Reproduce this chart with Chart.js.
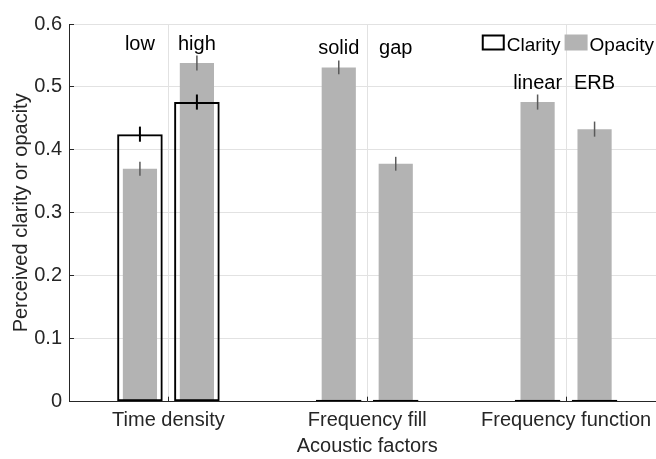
<!DOCTYPE html>
<html><head><meta charset="utf-8">
<script src="https://cdn.jsdelivr.net/npm/chart.js@4.4.1/dist/chart.umd.min.js"></script>
<style>
html,body{margin:0;padding:0;background:#fff;overflow:hidden;width:656px;height:459px}
#wrap{width:668px;height:459px}
</style></head>
<body><div id="wrap"><canvas id="c" width="668" height="459"></canvas></div>
<script>
const categories = ['Time density', 'Frequency fill', 'Frequency function'];
const firstLevelNames = ['low', 'solid', 'linear'];
const secondLevelNames = ['high', 'gap', 'ERB'];
const seriesNames = ['Clarity', 'Opacity'];

const clarityFirst = [0.425, 0, 0];
const clarityFirstErr = [0.012, 0, 0];
const claritySecond = [0.476, 0, 0];
const claritySecondErr = [0.012, 0, 0];
const opacityFirst = [0.370, 0.531, 0.476];
const opacityFirstErr = [0.011, 0.011, 0.012];
const opacitySecond = [0.538, 0.378, 0.433];
const opacitySecondErr = [0.012, 0.011, 0.012];

const yTickLabels = ['0', '0.1', '0.2', '0.3', '0.4', '0.5', '0.6'];
const xTitle = 'Acoustic factors';
const yTitle = 'Perceived clarity or opacity';

const FONT = '"Liberation Sans", Arial, Helvetica, sans-serif';
const AXIS_COLOR = '#262626';
const GRID_COLOR = '#e2e2e2';
const GRAY = '#b3b3b3';

const errorBars = {
  id: 'errorBars',
  afterDatasetsDraw(chart) {
    const ctx = chart.ctx, ys = chart.scales.y;
    chart.data.datasets.forEach((ds, di) => {
      if (!ds.errors) return;
      const meta = chart.getDatasetMeta(di);
      meta.data.forEach((bar, i) => {
        const e = ds.errors[i];
        if (!e) return;
        const v = ds.data[i];
        ctx.save();
        ctx.strokeStyle = ds.errorColor;
        ctx.lineWidth = ds.errorWidth;
        ctx.beginPath();
        ctx.moveTo(bar.x, ys.getPixelForValue(v - e));
        ctx.lineTo(bar.x, ys.getPixelForValue(v + e));
        ctx.stroke();
        ctx.restore();
      });
    });
  }
};

const levelLabels = {
  id: 'levelLabels',
  afterDatasetsDraw(chart) {
    const ctx = chart.ctx, ys = chart.scales.y;
    const labelY = [0.558, 0.553, 0.496];
    const sets = [[2, firstLevelNames], [3, secondLevelNames]];
    ctx.save();
    ctx.font = '20px ' + FONT;
    ctx.fillStyle = '#000';
    ctx.textAlign = 'center';
    ctx.textBaseline = 'alphabetic';
    sets.forEach(([di, names]) => {
      const meta = chart.getDatasetMeta(di);
      meta.data.forEach((bar, i) => {
        ctx.fillText(names[i], bar.x, ys.getPixelForValue(labelY[i]));
      });
    });
    ctx.restore();
  }
};

const boxLegend = {
  id: 'boxLegend',
  afterDraw(chart) {
    const ctx = chart.ctx, a = chart.chartArea;
    const items = [chart.data.datasets[0], chart.data.datasets[2]];
    const boxW = 23, boxH = 16, gapT = 2, gapI = 4;
    ctx.save();
    ctx.font = '19px ' + FONT;
    const widths = items.map(d => ctx.measureText(d.label).width);
    let total = 0;
    widths.forEach(w => total += boxW + gapT + w);
    total += gapI;
    let x = a.right - 11.5 - total;
    const top = a.top + 10.5;
    items.forEach((d, k) => {
      if (d.borderWidth) {
        ctx.lineWidth = 2;
        ctx.strokeStyle = d.borderColor;
        ctx.strokeRect(x + 1, top + 1, boxW - 2, boxH - 2);
      } else {
        ctx.fillStyle = d.backgroundColor;
        ctx.fillRect(x, top, boxW, boxH);
      }
      ctx.fillStyle = '#000';
      ctx.textBaseline = 'alphabetic';
      ctx.textAlign = 'left';
      ctx.fillText(d.label, x + boxW + gapT, top + boxH);
      x += boxW + gapT + widths[k] + gapI;
    });
    ctx.restore();
  }
};

const clarityStyle = {
  backgroundColor: 'rgba(0,0,0,0)',
  borderColor: '#000',
  borderWidth: 2,
  borderSkipped: false,
  barPercentage: 0.8,
  categoryPercentage: 0.573,
  minBarLength: 2,
  errorColor: '#000',
  errorWidth: 2
};
const opacityStyle = {
  backgroundColor: GRAY,
  borderWidth: 0,
  barPercentage: 0.6,
  categoryPercentage: 0.573,
  errorColor: '#5a5a5a',
  errorWidth: 1.5
};

new Chart(document.getElementById('c'), {
  type: 'bar',
  data: {
    labels: categories,
    datasets: [
      Object.assign({ label: seriesNames[0], data: clarityFirst, errors: clarityFirstErr, stack: 'first' }, clarityStyle),
      Object.assign({ label: seriesNames[0], data: claritySecond, errors: claritySecondErr, stack: 'second' }, clarityStyle),
      Object.assign({ label: seriesNames[1], data: opacityFirst, errors: opacityFirstErr, stack: 'first' }, opacityStyle),
      Object.assign({ label: seriesNames[1], data: opacitySecond, errors: opacitySecondErr, stack: 'second' }, opacityStyle)
    ]
  },
  options: {
    responsive: false,
    animation: false,
    layout: { padding: { top: 12, left: 0, right: 2.5, bottom: 0 } },
    plugins: { legend: { display: false }, tooltip: { enabled: false } },
    scales: {
      x: {
        type: 'category',
        offset: true,
        grid: { offset: false, color: GRID_COLOR, tickColor: AXIS_COLOR, tickLength: -5, lineWidth: 1 },
        border: { color: AXIS_COLOR, width: 1, z: 1 },
        ticks: { color: AXIS_COLOR, font: { family: FONT, size: 20 }, padding: 12, maxRotation: 0, autoSkip: false },
        title: { display: true, text: xTitle, color: AXIS_COLOR, font: { family: FONT, size: 20 }, padding: { top: 0, bottom: 1 } },
        afterFit(s) { s.height = 57.3; }
      },
      y: {
        min: 0, max: 0.6,
        stacked: false,
        grid: { color: GRID_COLOR, tickColor: AXIS_COLOR, tickLength: -5, lineWidth: 1 },
        border: { color: AXIS_COLOR, width: 1, z: 1 },
        ticks: {
          stepSize: 0.1, autoSkip: false, color: AXIS_COLOR, padding: 12,
          font: { family: FONT, size: 20 },
          callback: (v, i) => yTickLabels[i]
        },
        title: { display: true, text: yTitle, color: AXIS_COLOR, font: { family: FONT, size: 20 }, padding: { top: 9, bottom: 0 } },
        afterFit(s) { s.width = 69; }
      }
    }
  },
  plugins: [errorBars, levelLabels, boxLegend]
});
</script>
</body></html>
